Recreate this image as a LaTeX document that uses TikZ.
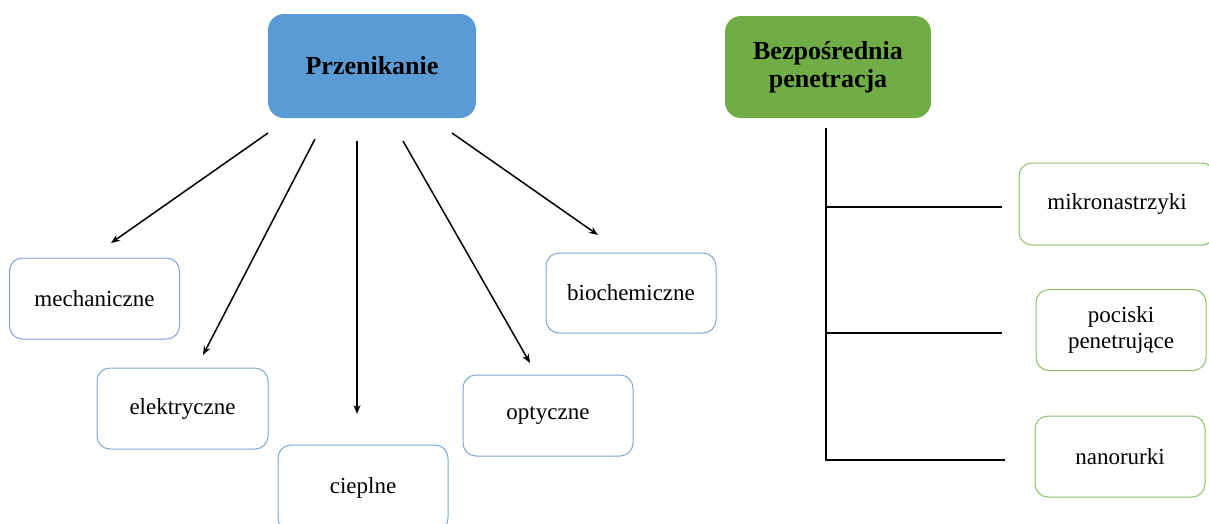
\documentclass[tikz,border=0pt]{standalone}
\usepackage{fontspec}
\setmainfont{Liberation Serif}
\usetikzlibrary{arrows.meta}
\definecolor{hblue}{HTML}{5B9BD5}
\definecolor{hgreen}{HTML}{70AD47}
\definecolor{bblue}{HTML}{7EA6D8}
\definecolor{bgreen}{HTML}{8CBF6C}
\tikzset{
  head/.style={rounded corners=16pt, font=\fontsize{26}{28}\selectfont\bfseries, align=center, inner sep=0pt},
  bluehead/.style={head, fill=hblue},
  greenhead/.style={head, fill=hgreen},
  leaf/.style={rounded corners=13pt, line width=1pt, fill=white, font=\fontsize{23}{25.5}\selectfont, align=center, inner sep=0pt, minimum width=170pt, minimum height=81pt},
  blueleaf/.style={leaf, draw=bblue},
  greenleaf/.style={leaf, draw=bgreen},
  arr/.style={line width=1.5pt, -{Stealth[length=9pt,width=7pt]}},
  conn/.style={line width=1.5pt}
}
\begin{document}
\begin{tikzpicture}[x=1pt,y=-1pt]
\useasboundingbox (0,0) rectangle (1209,523);
% heads
\node[bluehead, minimum width=208pt, minimum height=104pt] (prz) at (372,66) {Przenikanie};
\node[greenhead, minimum width=206pt, minimum height=102pt] (bez) at (828,67) {Bezpośrednia\\penetracja};
% blue leaves
\node[blueleaf] (mech) at (94.5,298.5) {mechaniczne};
\node[blueleaf, minimum width=171pt] (elek) at (182.5,408.5) {elektryczne};
\node[blueleaf, minimum height=86pt] (ciep) at (363,488) {cieplne};
\node[blueleaf] (opt) at (548,415.5) {optyczne};
\node[blueleaf, minimum height=80pt] (bio) at (631,293) {biochemiczne};
% green leaves
\node[greenleaf, minimum width=196pt, minimum height=82pt] (mikro) at (1117,204) {mikronastrzyki};
\node[greenleaf] (poc) at (1121,330) {pociski\\penetrujące};
\node[greenleaf] (nano) at (1120,456.5) {nanorurki};
% arrow ends
\coordinate (s1) at (268,133); \coordinate (e1) at (111,243);
\coordinate (s2) at (315,139); \coordinate (e2) at (203,355);
\coordinate (s3) at (357,141); \coordinate (e3) at (357,414);
\coordinate (s4) at (403,141); \coordinate (e4) at (530,363);
\coordinate (s5) at (452,133); \coordinate (e5) at (598,235);
\draw[arr] (s1) -- (e1);
\draw[arr] (s2) -- (e2);
\draw[arr] (s3) -- (e3);
\draw[arr] (s4) -- (e4);
\draw[arr] (s5) -- (e5);
% tree connector
\coordinate (t0) at (826,128);
\coordinate (t1) at (826,207); \coordinate (u1) at (1002,207);
\coordinate (t2) at (826,333); \coordinate (u2) at (1002,333);
\coordinate (t3) at (826,460); \coordinate (u3) at (1005,460);
\draw[conn] (t0) -- (t3) -- (u3);
\draw[conn] (t1) -- (u1);
\draw[conn] (t2) -- (u2);
\end{tikzpicture}
\end{document}
